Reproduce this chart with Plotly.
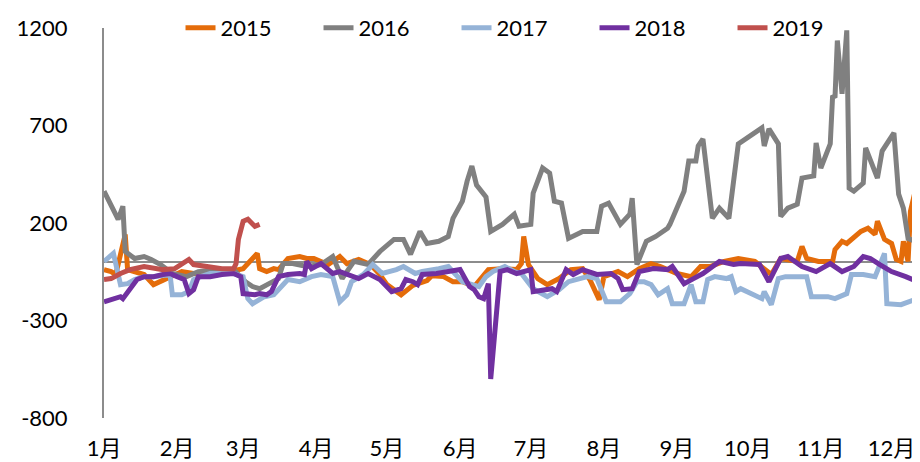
import plotly.graph_objects as go
import pandas as pd

# day-of-year offsets (0 = 1 Jan) and values
days_2015 = [0, 3, 5, 9, 10, 13, 17, 21, 25, 29, 33, 38, 44, 50, 55, 59, 65, 66, 69, 72, 74, 78, 83, 86, 89, 95,
             100, 103, 108, 113, 117, 120, 126, 131, 137, 139, 144, 148, 152, 157, 163, 170, 175, 177, 178, 180, 184,
             188, 193, 198, 203, 206, 210, 212, 218, 222, 227, 232, 236, 243, 249, 253, 257, 263, 269, 276, 283, 287,
             294, 296, 298, 303, 309, 310, 313, 315, 321, 324, 327, 328, 331, 334, 336, 338, 339, 341, 342, 344, 345]
vals_2015 = [-39, -49, -64, 142, -39, -49, -64, -116, -95, -70, -49, -59, -64, -49, -45, -34, 44, -34, -49, -34, -39,
             18, 28, 18, 18, -13, 28, -8, 13, -13, -64, -116, -168, -120, -95, -70, -75, -101, -101, -126, -39, -34,
             -39, -8, 131, -13, -85, -116, -85, -39, -34, -90, -193, -75, -49, -75, -34, -8, -23, -59, -75, -23, -23,
             3, 18, 3, -64, 18, 3, 80, 18, 3, 3, 64, 106, 95, 157, 173, 142, 209, 116, 95, 13, 3, 106, 3, 260, 363, 245]

days_2016 = [0, 6, 8, 9, 13, 17, 20, 24, 29, 35, 40, 47, 55, 60, 63, 66, 70, 74, 76, 80, 86, 92, 97, 101, 106, 112,
             117, 123, 127, 130, 134, 137, 142, 146, 148, 152, 154, 156, 158, 162, 164, 169, 174, 176, 181, 182, 186,
             189, 191, 194, 197, 203, 209, 211, 214, 219, 223, 224, 226, 230, 234, 239, 240, 243, 246, 248, 251, 252,
             254, 258, 261, 265, 269, 279, 280, 282, 286, 287, 290, 294, 296, 301, 302, 304, 308, 309, 310, 311, 313,
             315, 316, 318, 322, 323, 326, 328, 330, 333, 335, 337, 339, 341, 344, 345]
vals_2016 = [363, 219, 286, 54, 18, 28, 13, -13, -59, -75, -50, -40, -40, -101, -126, -137, -111, -85, -8, -8, -23,
             -13, 28, -85, 3, -13, 54, 116, 116, 39, 157, 95, 106, 131, 224, 312, 415, 492, 394, 333, 157, 193, 245,
             183, 193, 353, 482, 456, 312, 302, 121, 157, 157, 286, 302, 193, 245, 327, -13, 106, 131, 173, 193, 276,
             363, 518, 518, 595, 631, 224, 276, 224, 606, 688, 595, 683, 606, 234, 276, 296, 430, 441, 611, 482, 606,
             853, 843, 1136, 863, 1188, 379, 363, 405, 585, 482, 430, 569, 621, 662, 348, 276, 121, 106, -64]

days_2017 = [0, 2, 4, 7, 10, 13, 17, 21, 25, 28, 29, 33, 36, 38, 41, 45, 50, 55, 59, 61, 63, 68, 72, 78, 83, 88, 92,
             97, 100, 103, 105, 110, 114, 118, 124, 127, 132, 135, 142, 146, 152, 156, 159, 162, 165, 170, 174, 177,
             182, 188, 193, 197, 201, 205, 209, 210, 213, 219, 223, 226, 229, 232, 235, 239, 241, 246, 249, 251, 254,
             256, 259, 264, 266, 268, 270, 279, 280, 283, 286, 289, 296, 298, 300, 307, 310, 315, 317, 322, 327, 331,
             332, 338, 345]
vals_2017 = [3, 28, 44, -116, -111, -90, -75, -75, -70, -64, -168, -168, -152, -90, -75, -59, -59, -59, -75, -188,
             -214, -178, -168, -90, -101, -75, -64, -75, -204, -168, -101, -64, -13, -59, -39, -23, -59, -49, -34,
             -23, -101, -116, -126, -75, -49, -23, -49, -59, -137, -178, -142, -101, -85, -75, -85, -116, -204, -204,
             -162, -101, -101, -116, -168, -137, -214, -214, -116, -204, -204, -90, -75, -85, -75, -152, -137, -188,
             -152, -219, -85, -75, -75, -75, -178, -178, -188, -162, -64, -64, -75, 44, -214, -219, -188]

days_2018 = [0, 7, 8, 13, 14, 17, 21, 25, 28, 31, 34, 36, 38, 40, 45, 50, 55, 58, 59, 64, 66, 69, 71, 74, 78, 83, 85,
             86, 88, 92, 97, 100, 108, 112, 117, 122, 126, 128, 131, 133, 135, 141, 147, 151, 155, 157, 159, 161, 163,
             164, 168, 171, 175, 181, 182, 186, 190, 192, 196, 199, 203, 209, 215, 218, 220, 224, 227, 233, 239, 241,
             246, 250, 254, 261, 267, 270, 278, 282, 287, 290, 296, 302, 308, 313, 318, 322, 325, 329, 334, 340, 345]
vals_2018 = [-204, -178, -188, -111, -90, -75, -75, -64, -59, -75, -90, -162, -142, -75, -75, -64, -59, -75, -162,
             -168, -162, -168, -152, -75, -64, -59, -64, 3, -34, -8, -59, -49, -85, -59, -90, -152, -137, -90, -101,
             -116, -64, -59, -49, -39, -126, -142, -178, -188, -111, -600, -49, -39, -59, -39, -152, -142, -137, -152,
             -39, -64, -39, -64, -59, -85, -142, -137, -49, -34, -39, -23, -111, -85, -59, 3, -13, -8, -13, -101, 18,
             28, -23, -49, -8, -49, -23, 28, 18, -13, -49, -75, -101]

days_2019 = [0, 3, 7, 11, 17, 21, 25, 30, 33, 36, 38, 44, 50, 55, 56, 57, 59, 61, 63, 64, 66]
vals_2019 = [-90, -85, -59, -39, -23, -34, -39, -34, -13, 13, -13, -23, -34, -34, -8, 116, 209, 219, 198, 183, 193]

month_starts = ["2019-01-01", "2019-02-01", "2019-03-01", "2019-04-01", "2019-05-01", "2019-06-01",
                "2019-07-01", "2019-08-01", "2019-09-01", "2019-10-01", "2019-11-01", "2019-12-01"]
month_labels = ["1月", "2月", "3月", "4月", "5月", "6月", "7月", "8月", "9月", "10月", "11月", "12月"]
y_ticks = [-800, -300, 200, 700, 1200]
y_tick_labels = ["-800", "-300", "200", "700", "1200"]

series = [
    ("2015", days_2015, vals_2015, "#E46C0A"),
    ("2016", days_2016, vals_2016, "#808080"),
    ("2017", days_2017, vals_2017, "#95B3D7"),
    ("2018", days_2018, vals_2018, "#7030A0"),
    ("2019", days_2019, vals_2019, "#C0504D"),
]

base = pd.Timestamp("2019-01-01")
fig = go.Figure()
for name, d, v, c in series:
    x = [base + pd.Timedelta(days=k) for k in d]
    fig.add_trace(go.Scatter(x=x, y=v, mode="lines", name=name,
                             line=dict(color=c, width=5)))

# the page body adds an 8px offset, so the figure is 8px smaller than the window
font_fam = "Lato, 'Noto Sans CJK SC', sans-serif"
fig.update_layout(
    width=912, height=454,
    margin=dict(l=96, r=2, t=20, b=44, autoexpand=False),
    paper_bgcolor="white", plot_bgcolor="white",
    font=dict(family=font_fam, size=22, color="black"),
    showlegend=True,
    legend=dict(orientation="h", x=0.094, xanchor="left", y=1.0, yanchor="middle",
                bgcolor="rgba(0,0,0,0)", font=dict(size=22),
                entrywidth=93, entrywidthmode="pixels", tracegroupgap=0),
    xaxis=dict(range=["2019-01-01", "2019-12-12 05:00"], tickvals=month_starts, ticktext=month_labels,
               showgrid=False, showline=False, zeroline=False, ticks="", ticklabelstandoff=15,
               automargin=False),
    yaxis=dict(range=[-800, 1200], tickvals=y_ticks, ticktext=y_tick_labels, showgrid=False, zeroline=True,
               zerolinecolor="#8C8C8C", zerolinewidth=2, showline=True, linecolor="#8C8C8C",
               linewidth=2, ticks="", ticklabelstandoff=30, automargin=False),
)
fig.write_html("out.html")
